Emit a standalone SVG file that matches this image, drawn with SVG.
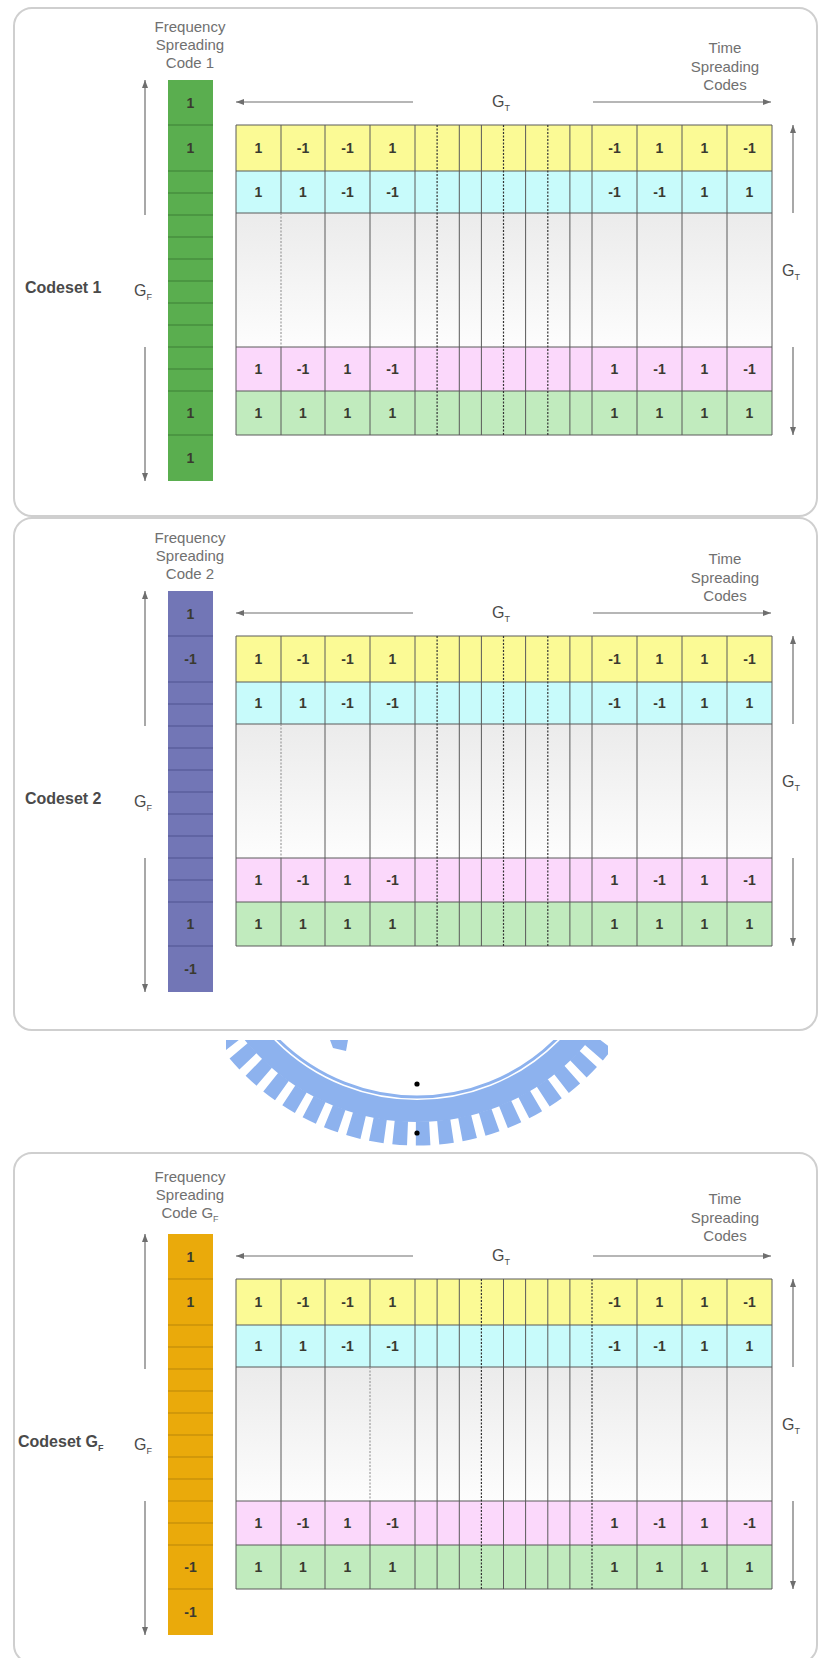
<svg xmlns="http://www.w3.org/2000/svg" width="818" height="1658" viewBox="0 0 818 1658">
<defs>
<style>
.pb{fill:#fff;stroke:#cfcfcf;stroke-width:2}
.gl{stroke:#5a5a5a;stroke-width:1;fill:none}
.gd{stroke:#333;stroke-width:1.2;stroke-dasharray:2 1.5;fill:none}
.gdl{stroke:#8a8a8a;stroke-width:1;stroke-dasharray:2 1.5;fill:none}
.ar{stroke:#6e6e6e;stroke-width:1.2;fill:none;marker-end:url(#ah)}
.num{font-family:'Liberation Sans',Arial,sans-serif;font-size:14px;font-weight:bold;fill:#3a3a30;text-anchor:middle}
.lbl{font-family:'Liberation Sans',Arial,sans-serif;font-size:15px;fill:#707070;text-anchor:middle}
.cs{font-family:'Liberation Sans',Arial,sans-serif;font-size:16px;font-weight:bold;fill:#4a4a4a}
.g{font-family:'Liberation Sans',Arial,sans-serif;font-size:16px;fill:#4a4a4a}
.sub{font-size:9px}
.yl{fill:#fbfa95}.cy{fill:#c8fbfb}.pk{fill:#fbd8fb}.gr{fill:#c1ebbe}.gy{fill:url(#gg)}
.wm{fill:none;stroke:#8db2ee}
.fl{stroke-width:1;fill:none}
</style>
<linearGradient id="gg" x1="0" y1="0" x2="0" y2="1"><stop offset="0" stop-color="#ebebeb"/><stop offset="1" stop-color="#fdfdfd"/></linearGradient>
<marker id="ah" viewBox="0 0 8 6" refX="8" refY="3" markerWidth="8" markerHeight="6" markerUnits="userSpaceOnUse" orient="auto"><path d="M0,0 L8,3 L0,6 z" fill="#6e6e6e"/></marker>
<clipPath id="wmc"><rect x="226" y="1040" width="382" height="106"/></clipPath>
</defs>
<rect x="0" y="0" width="818" height="1658" fill="#fff"/>

<g id="watermark" clip-path="url(#wmc)">
<circle class="wm" cx="417" cy="900" r="197" stroke="#cde8ef" stroke-width="3"/>
<circle class="wm" cx="417" cy="900" r="211" stroke-width="22"/>
<circle class="wm" cx="417" cy="900" r="233.5" stroke-width="24" stroke-dasharray="14 8.4" stroke-dashoffset="4.6"/>
<polygon points="330,1040 348,1040 346,1051 333,1048" fill="#8db2ee"/>
</g>
<g id="dots">
<circle cx="417" cy="1084" r="2.6" fill="#000"/>
<circle cx="417" cy="1133" r="2.6" fill="#000"/>
</g>

<g id="panel-borders">
<rect class="pb" x="14" y="8" width="803" height="508" rx="18"/>
<rect class="pb" x="14" y="518" width="803" height="512" rx="18"/>
<rect class="pb" x="14" y="1153" width="803" height="510" rx="18"/>
</g>

<!-- Panel 1 -->
<g id="codeset1">
<g id="freq1">
<rect x="168" y="80" width="45" height="401" fill="#5aae4f"/>
<path class="fl" stroke="#3d7f37" d="M168,125H213M168,171H213M168,193H213M168,215H213M168,237H213M168,259H213M168,281H213M168,303H213M168,325H213M168,347H213M168,369H213M168,391H213M168,435H213"/>
<text class="num" x="190.5" y="107.5">1</text>
<text class="num" x="190.5" y="153">1</text>
<text class="num" x="190.5" y="418">1</text>
<text class="num" x="190.5" y="463">1</text>
</g>
<g id="grid1">
<rect class="yl" x="236" y="125" width="536" height="46"/>
<rect class="cy" x="236" y="171" width="536" height="42"/>
<rect class="gy" x="236" y="213" width="536" height="134"/>
<rect class="pk" x="236" y="347" width="536" height="44"/>
<rect class="gr" x="236" y="391" width="536" height="44"/>
<path class="gl" d="M236,125H772M236,171H772M236,213H772M236,347H772M236,391H772M236,435H772M236,125V435M281,125V213M281,347V435M325,125V435M370,125V435M415,125V435M459.3,125V435M481.4,125V435M525.6,125V435M569.9,125V435M592,125V435M637,125V435M682,125V435M727,125V435M772,125V435"/>
<path class="gdl" d="M281,213V347"/>
<path class="gd" d="M437.1,125V435M503.5,125V435M547.8,125V435"/>
<text class="num" x="258.5" y="153">1</text><text class="num" x="303" y="153">-1</text><text class="num" x="347.5" y="153">-1</text><text class="num" x="392.5" y="153">1</text>
<text class="num" x="614.5" y="153">-1</text><text class="num" x="659.5" y="153">1</text><text class="num" x="704.5" y="153">1</text><text class="num" x="749.5" y="153">-1</text>
<text class="num" x="258.5" y="197">1</text><text class="num" x="303" y="197">1</text><text class="num" x="347.5" y="197">-1</text><text class="num" x="392.5" y="197">-1</text>
<text class="num" x="614.5" y="197">-1</text><text class="num" x="659.5" y="197">-1</text><text class="num" x="704.5" y="197">1</text><text class="num" x="749.5" y="197">1</text>
<text class="num" x="258.5" y="374">1</text><text class="num" x="303" y="374">-1</text><text class="num" x="347.5" y="374">1</text><text class="num" x="392.5" y="374">-1</text>
<text class="num" x="614.5" y="374">1</text><text class="num" x="659.5" y="374">-1</text><text class="num" x="704.5" y="374">1</text><text class="num" x="749.5" y="374">-1</text>
<text class="num" x="258.5" y="418">1</text><text class="num" x="303" y="418">1</text><text class="num" x="347.5" y="418">1</text><text class="num" x="392.5" y="418">1</text>
<text class="num" x="614.5" y="418">1</text><text class="num" x="659.5" y="418">1</text><text class="num" x="704.5" y="418">1</text><text class="num" x="749.5" y="418">1</text>
</g>
<g id="labels1">
<text class="lbl" x="190" y="32">Frequency</text>
<text class="lbl" x="190" y="50">Spreading</text>
<text class="lbl" x="190" y="68">Code 1</text>
<text class="lbl" x="725" y="53">Time</text>
<text class="lbl" x="725" y="72">Spreading</text>
<text class="lbl" x="725" y="90">Codes</text>
<text class="cs" x="25" y="293">Codeset 1</text>
<text class="g" x="134" y="296">G<tspan class="sub" dy="4">F</tspan></text>
<text class="g" x="492" y="107">G<tspan class="sub" dy="4">T</tspan></text>
<text class="g" x="782" y="276">G<tspan class="sub" dy="4">T</tspan></text>
</g>
</g>

<!-- Panel 2 -->
<g id="codeset2" transform="translate(0,511)">
<g id="freq2">
<rect x="168" y="80" width="45" height="401" fill="#7276b6"/>
<path class="fl" stroke="#4f5390" d="M168,125H213M168,171H213M168,193H213M168,215H213M168,237H213M168,259H213M168,281H213M168,303H213M168,325H213M168,347H213M168,369H213M168,391H213M168,435H213"/>
<text class="num" x="190.5" y="107.5">1</text>
<text class="num" x="190.5" y="153">-1</text>
<text class="num" x="190.5" y="418">1</text>
<text class="num" x="190.5" y="463">-1</text>
</g>
<g id="grid2">
<rect class="yl" x="236" y="125" width="536" height="46"/>
<rect class="cy" x="236" y="171" width="536" height="42"/>
<rect class="gy" x="236" y="213" width="536" height="134"/>
<rect class="pk" x="236" y="347" width="536" height="44"/>
<rect class="gr" x="236" y="391" width="536" height="44"/>
<path class="gl" d="M236,125H772M236,171H772M236,213H772M236,347H772M236,391H772M236,435H772M236,125V435M281,125V213M281,347V435M325,125V435M370,125V435M415,125V435M459.3,125V435M481.4,125V435M525.6,125V435M569.9,125V435M592,125V435M637,125V435M682,125V435M727,125V435M772,125V435"/>
<path class="gdl" d="M281,213V347"/>
<path class="gd" d="M437.1,125V435M503.5,125V435M547.8,125V435"/>
<text class="num" x="258.5" y="153">1</text><text class="num" x="303" y="153">-1</text><text class="num" x="347.5" y="153">-1</text><text class="num" x="392.5" y="153">1</text>
<text class="num" x="614.5" y="153">-1</text><text class="num" x="659.5" y="153">1</text><text class="num" x="704.5" y="153">1</text><text class="num" x="749.5" y="153">-1</text>
<text class="num" x="258.5" y="197">1</text><text class="num" x="303" y="197">1</text><text class="num" x="347.5" y="197">-1</text><text class="num" x="392.5" y="197">-1</text>
<text class="num" x="614.5" y="197">-1</text><text class="num" x="659.5" y="197">-1</text><text class="num" x="704.5" y="197">1</text><text class="num" x="749.5" y="197">1</text>
<text class="num" x="258.5" y="374">1</text><text class="num" x="303" y="374">-1</text><text class="num" x="347.5" y="374">1</text><text class="num" x="392.5" y="374">-1</text>
<text class="num" x="614.5" y="374">1</text><text class="num" x="659.5" y="374">-1</text><text class="num" x="704.5" y="374">1</text><text class="num" x="749.5" y="374">-1</text>
<text class="num" x="258.5" y="418">1</text><text class="num" x="303" y="418">1</text><text class="num" x="347.5" y="418">1</text><text class="num" x="392.5" y="418">1</text>
<text class="num" x="614.5" y="418">1</text><text class="num" x="659.5" y="418">1</text><text class="num" x="704.5" y="418">1</text><text class="num" x="749.5" y="418">1</text>
</g>
<g id="labels2">
<text class="lbl" x="190" y="32">Frequency</text>
<text class="lbl" x="190" y="50">Spreading</text>
<text class="lbl" x="190" y="68">Code 2</text>
<text class="lbl" x="725" y="53">Time</text>
<text class="lbl" x="725" y="72">Spreading</text>
<text class="lbl" x="725" y="90">Codes</text>
<text class="cs" x="25" y="293">Codeset 2</text>
<text class="g" x="134" y="296">G<tspan class="sub" dy="4">F</tspan></text>
<text class="g" x="492" y="107">G<tspan class="sub" dy="4">T</tspan></text>
<text class="g" x="782" y="276">G<tspan class="sub" dy="4">T</tspan></text>
</g>
</g>

<!-- Panel 3 -->
<g id="codesetGF" transform="translate(0,1154)">
<g id="freq3">
<rect x="168" y="80" width="45" height="401" fill="#eaaa0b"/>
<path class="fl" stroke="#b9860a" d="M168,125H213M168,171H213M168,193H213M168,215H213M168,237H213M168,259H213M168,281H213M168,303H213M168,325H213M168,347H213M168,369H213M168,391H213M168,435H213"/>
<text class="num" x="190.5" y="107.5">1</text>
<text class="num" x="190.5" y="153">1</text>
<text class="num" x="190.5" y="418">-1</text>
<text class="num" x="190.5" y="463">-1</text>
</g>
<g id="grid3">
<rect class="yl" x="236" y="125" width="536" height="46"/>
<rect class="cy" x="236" y="171" width="536" height="42"/>
<rect class="gy" x="236" y="213" width="536" height="134"/>
<rect class="pk" x="236" y="347" width="536" height="44"/>
<rect class="gr" x="236" y="391" width="536" height="44"/>
<path class="gl" d="M236,125H772M236,171H772M236,213H772M236,347H772M236,391H772M236,435H772M236,125V435M281,125V435M325,125V435M370,125V213M370,347V435M415,125V435M437.1,125V435M459.3,125V435M503.5,125V435M525.6,125V435M547.8,125V435M569.9,125V435M637,125V435M682,125V435M727,125V435M772,125V435"/>
<path class="gdl" d="M370,213V347"/>
<path class="gd" d="M481.4,125V435M592,125V435"/>
<text class="num" x="258.5" y="153">1</text><text class="num" x="303" y="153">-1</text><text class="num" x="347.5" y="153">-1</text><text class="num" x="392.5" y="153">1</text>
<text class="num" x="614.5" y="153">-1</text><text class="num" x="659.5" y="153">1</text><text class="num" x="704.5" y="153">1</text><text class="num" x="749.5" y="153">-1</text>
<text class="num" x="258.5" y="197">1</text><text class="num" x="303" y="197">1</text><text class="num" x="347.5" y="197">-1</text><text class="num" x="392.5" y="197">-1</text>
<text class="num" x="614.5" y="197">-1</text><text class="num" x="659.5" y="197">-1</text><text class="num" x="704.5" y="197">1</text><text class="num" x="749.5" y="197">1</text>
<text class="num" x="258.5" y="374">1</text><text class="num" x="303" y="374">-1</text><text class="num" x="347.5" y="374">1</text><text class="num" x="392.5" y="374">-1</text>
<text class="num" x="614.5" y="374">1</text><text class="num" x="659.5" y="374">-1</text><text class="num" x="704.5" y="374">1</text><text class="num" x="749.5" y="374">-1</text>
<text class="num" x="258.5" y="418">1</text><text class="num" x="303" y="418">1</text><text class="num" x="347.5" y="418">1</text><text class="num" x="392.5" y="418">1</text>
<text class="num" x="614.5" y="418">1</text><text class="num" x="659.5" y="418">1</text><text class="num" x="704.5" y="418">1</text><text class="num" x="749.5" y="418">1</text>
</g>
<g id="labels3">
<text class="lbl" x="190" y="28">Frequency</text>
<text class="lbl" x="190" y="46">Spreading</text>
<text class="lbl" x="190" y="64">Code G<tspan class="sub" dy="4">F</tspan></text>
<text class="lbl" x="725" y="50">Time</text>
<text class="lbl" x="725" y="69">Spreading</text>
<text class="lbl" x="725" y="87">Codes</text>
<text class="cs" x="18" y="293">Codeset G<tspan class="sub" dy="4">F</tspan></text>
<text class="g" x="134" y="296">G<tspan class="sub" dy="4">F</tspan></text>
<text class="g" x="492" y="107">G<tspan class="sub" dy="4">T</tspan></text>
<text class="g" x="782" y="276">G<tspan class="sub" dy="4">T</tspan></text>
</g>
</g>

<g id="connectors">
<g transform="translate(0,0)">
<line class="ar" x1="145" y1="215" x2="145" y2="80"/><line class="ar" x1="145" y1="347" x2="145" y2="481"/>
<line class="ar" x1="413" y1="102" x2="236" y2="102"/><line class="ar" x1="593" y1="102" x2="771" y2="102"/>
<line class="ar" x1="793" y1="213" x2="793" y2="125"/><line class="ar" x1="793" y1="347" x2="793" y2="435"/>
</g>
<g transform="translate(0,511)">
<line class="ar" x1="145" y1="215" x2="145" y2="80"/><line class="ar" x1="145" y1="347" x2="145" y2="481"/>
<line class="ar" x1="413" y1="102" x2="236" y2="102"/><line class="ar" x1="593" y1="102" x2="771" y2="102"/>
<line class="ar" x1="793" y1="213" x2="793" y2="125"/><line class="ar" x1="793" y1="347" x2="793" y2="435"/>
</g>
<g transform="translate(0,1154)">
<line class="ar" x1="145" y1="215" x2="145" y2="80"/><line class="ar" x1="145" y1="347" x2="145" y2="481"/>
<line class="ar" x1="413" y1="102" x2="236" y2="102"/><line class="ar" x1="593" y1="102" x2="771" y2="102"/>
<line class="ar" x1="793" y1="213" x2="793" y2="125"/><line class="ar" x1="793" y1="347" x2="793" y2="435"/>
</g>
</g>
</svg>
